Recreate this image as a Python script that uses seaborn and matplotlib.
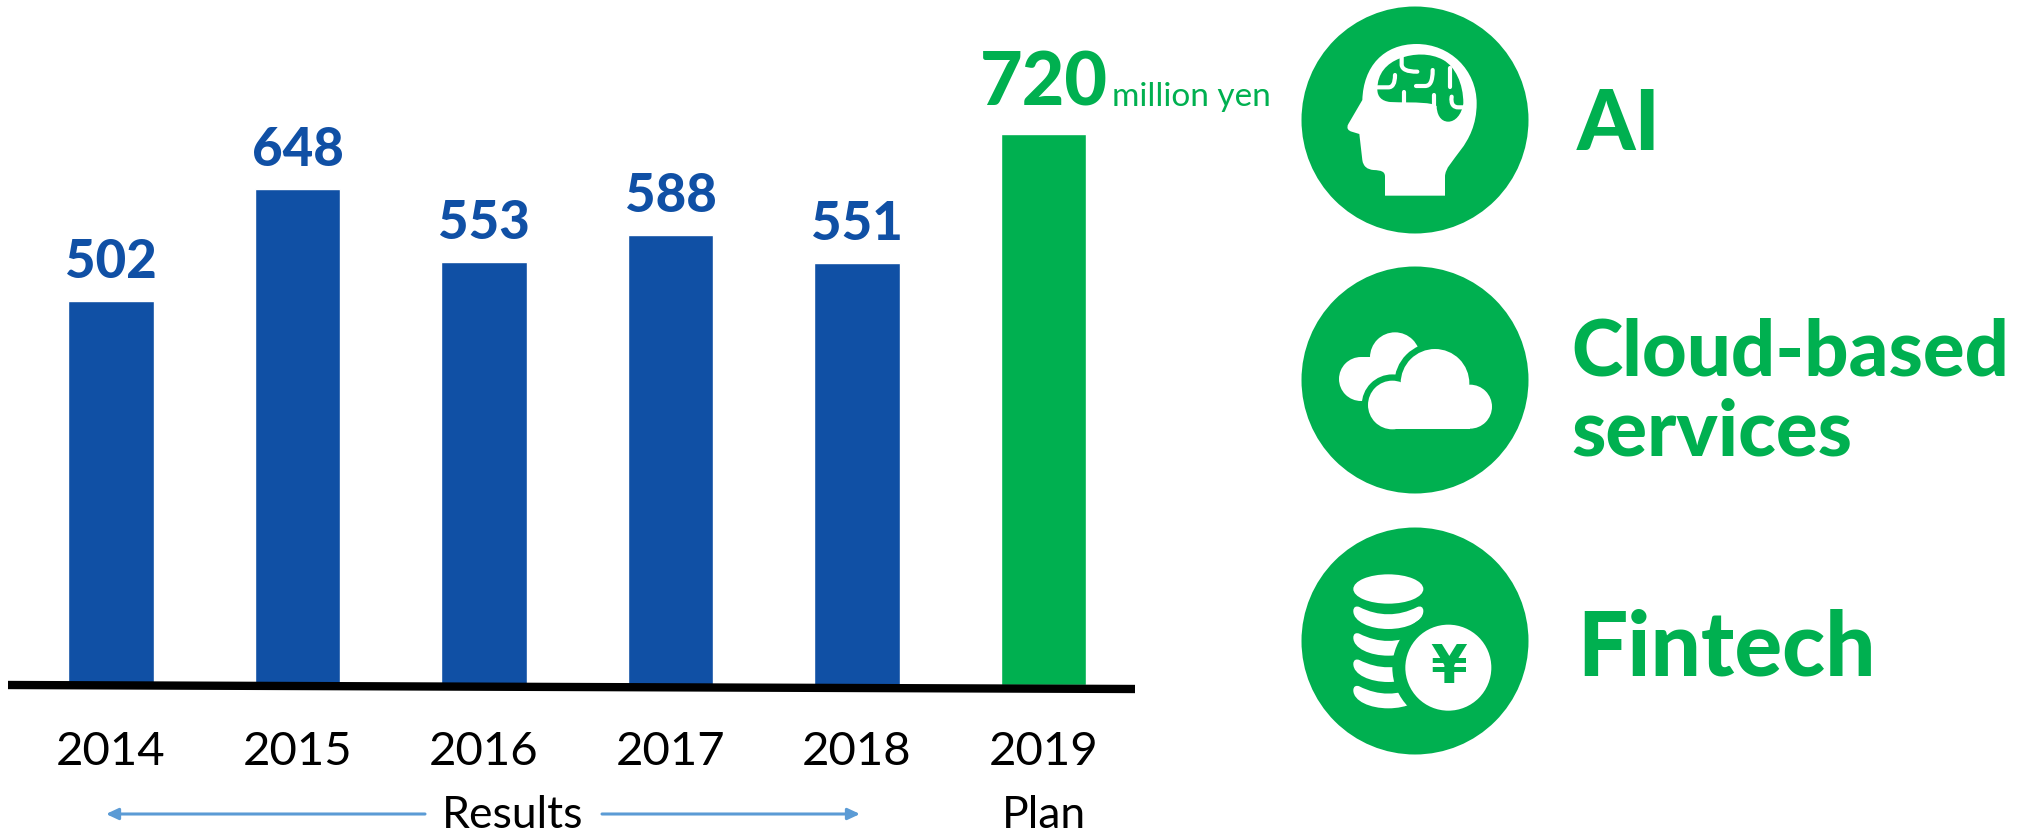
import matplotlib
matplotlib.use('Agg')
import matplotlib.pyplot as plt
from matplotlib.patches import Circle, Ellipse, PathPatch, Rectangle
from matplotlib.path import Path
import pandas as pd
import seaborn as sns

years = ['2014', '2015', '2016', '2017', '2018', '2019']
sales = [502, 648, 553, 588, 551, 720]
status = ['Results', 'Results', 'Results', 'Results', 'Results', 'Plan']
unit = 'million yen'
themes = ['AI', 'Cloud-based\nservices', 'Fintech']

BLUE = '#1050A5'
GREEN = '#00B050'
ARROW = '#5B9BD5'

sns.set_theme(style='white')
plt.rcParams['font.family'] = ['Lato', 'DejaVu Sans']

W, H = 2020, 835
fig = plt.figure(figsize=(W / 100, H / 100), dpi=100)

# bar panel, placed in pixels
ax = fig.add_axes([17.75 / W, (H - 685) / H, 1119 / W, 685 / H])
df = pd.DataFrame({'year': years, 'sales': sales, 'status': status})
sns.barplot(data=df, x='year', y='sales', hue='status', dodge=False,
            palette={'Results': BLUE, 'Plan': GREEN}, width=0.46,
            saturation=1, legend=False, ax=ax)
ax.set_xlim(-0.5, 5.5)
ax.set_ylim(0, 685 / 0.7655)
ax.set_xlabel('')
ax.set_ylabel('')
ax.set_yticks([])
ax.tick_params(axis='x', length=0, pad=33, labelsize=34, labelcolor='black')
sns.despine(ax=ax, left=True, bottom=True)

for i, v in enumerate(sales):
    if years[i] == '2019':
        ax.text(i, v + 20, str(v), ha='center', va='bottom', color=GREEN,
                fontsize=53, fontweight='black')
    else:
        ax.text(i, v + 18, str(v), ha='center', va='bottom', color=BLUE,
                fontsize=38, fontweight='black')

# overlay in pixel coords for baseline, arrows, icons
ov = fig.add_axes([0, 0, 1, 1], facecolor='none')
ov.set_xlim(0, W)
ov.set_ylim(H, 0)
ov.axis('off')

ov.plot([8, 1135], [685, 689], color='black', lw=6, solid_capstyle='butt')
ov.text(1112, 97, unit, color=GREEN, fontsize=24, ha='left', va='center')
ov.text(513, 816, 'Results', color='black', fontsize=32, ha='center', va='center')
ov.text(1044, 816, 'Plan', color='black', fontsize=32, ha='center', va='center')
for x0, x1 in [(425, 106), (602, 860)]:
    ov.annotate('', xy=(x1, 814), xytext=(x0, 814),
                arrowprops=dict(arrowstyle='-|>,head_width=0.28,head_length=0.6',
                                color=ARROW, lw=2.2, shrinkA=0, shrinkB=0))

# icon helpers, coordinates given in 3x crop pixels
def make_path(org, segs):
    verts, codes = [], []
    for s in segs:
        if s[0] == 'M':
            verts.append(s[1]); codes.append(Path.MOVETO)
        elif s[0] == 'L':
            verts.append(s[1]); codes.append(Path.LINETO)
        elif s[0] == 'C':
            verts += [s[1], s[2], s[3]]; codes += [Path.CURVE4] * 3
    verts = [(org[0] + x / 3, org[1] + y / 3) for x, y in verts]
    return Path(verts, codes)

def shape(org, segs, fc='white', ec='none', lw=0, z=3):
    ov.add_patch(PathPatch(make_path(org, segs), fc=fc, ec=ec, lw=lw, zorder=z))

def groove(org, segs):
    ov.add_patch(PathPatch(make_path(org, segs), fc='none', ec='white',
                           lw=3, capstyle='round', zorder=5))

for cy in [120, 380, 641]:
    ov.add_patch(Circle((1415, cy), 113.5, fc=GREEN, ec='none', zorder=2))

# head with brain
org = (1280, 0)
shape(org, [('M', (315, 587)), ('L', (495, 587)), ('L', (495, 530)),
            ('C', (495, 480), (590, 440), (590, 310)),
            ('C', (590, 210), (510, 132), (410, 132)),
            ('C', (310, 132), (250, 200), (247, 300)),
            ('L', (205, 372)), ('C', (198, 385), (205, 392), (215, 395)),
            ('L', (238, 402)), ('L', (247, 480)),
            ('C', (250, 500), (262, 508), (280, 510)),
            ('C', (305, 511), (315, 515), (315, 530)), ('L', (315, 587))])
shape(org, [('M', (292, 268)), ('C', (292, 220), (320, 190), (360, 175)),
            ('C', (400, 160), (450, 158), (490, 180)),
            ('C', (525, 200), (550, 250), (550, 310)),
            ('C', (545, 345), (525, 365), (505, 365)),
            ('C', (480, 365), (470, 340), (470, 318)),
            ('L', (455, 312)), ('C', (420, 305), (360, 308), (330, 306)),
            ('C', (305, 303), (292, 290), (292, 268))], fc=GREEN, z=4)
groove(org, [('M', (365, 170)), ('L', (365, 195)),
             ('C', (367, 208), (380, 215), (412, 215))])
groove(org, [('M', (292, 262)), ('L', (325, 262)),
             ('C', (338, 262), (345, 250), (345, 225))])
groove(org, [('M', (408, 258)), ('L', (435, 258)),
             ('C', (450, 258), (458, 245), (458, 210))])
groove(org, [('M', (510, 205)), ('L', (510, 260))])
groove(org, [('M', (372, 275)), ('L', (372, 310))])
groove(org, [('M', (463, 285)), ('L', (463, 318))])
groove(org, [('M', (515, 290)), ('C', (512, 312), (520, 322), (535, 322)),
             ('L', (552, 322))])

# clouds
org = (1280, 260)
def pt(x, y):
    return org[0] + x / 3, org[1] + y / 3

for c, r in [((345, 292), 75), ((243, 357), 66)]:
    ov.add_patch(Circle(pt(*c), r / 3, fc='white', ec='none', zorder=3))
ov.add_patch(Rectangle(pt(243, 292), 110 / 3, 100 / 3, fc='white', ec='none', zorder=3))
front = [((337, 435), 73), ((465, 370), 103), ((570, 440), 66)]
for c, r in front:
    ov.add_patch(Circle(pt(*c), r / 3, fc=GREEN, ec=GREEN, lw=9, zorder=4))
ov.add_patch(Rectangle(pt(337, 400), 233 / 3, 108 / 3, fc=GREEN, ec=GREEN, lw=9, zorder=4))
for c, r in front:
    ov.add_patch(Circle(pt(*c), r / 3, fc='white', ec='none', zorder=5))
ov.add_patch(Rectangle(pt(337, 400), 233 / 3, 108 / 3, fc='white', ec='none', zorder=5))

# coins with yen
org = (1280, 515)
def pt(x, y):
    return org[0] + x / 3, org[1] + y / 3

ov.add_patch(Ellipse(pt(325, 222), 210 / 3, 88 / 3, fc='white', ec='none', zorder=3))
for dy in [0, 80, 159, 238]:
    shape(org, [('M', (220, 288 + dy)), ('C', (220, 276 + dy), (228, 272 + dy), (238, 276 + dy)),
                ('C', (295, 305 + dy), (355, 305 + dy), (412, 276 + dy)),
                ('C', (422, 272 + dy), (430, 276 + dy), (430, 288 + dy)),
                ('C', (430, 320 + dy), (380, 342 + dy), (325, 342 + dy)),
                ('C', (270, 342 + dy), (220, 320 + dy), (220, 288 + dy))])
ov.add_patch(Circle(pt(505, 458), 168 / 3, fc=GREEN, ec='none', zorder=4))
ov.add_patch(Circle(pt(505, 458), 129 / 3, fc='white', ec='none', zorder=5))
ov.text(*pt(505, 458), '¥', color=GREEN, fontsize=38, fontweight='bold',
        family=['DejaVu Sans'], ha='center', va='center', zorder=6)

# theme labels
ov.text(1577, 125, themes[0], color=GREEN, fontsize=60, fontweight='black', ha='left', va='center')
ov.text(1571, 393, themes[1], color=GREEN, fontsize=56, fontweight='black', ha='left',
        va='center', linespacing=1.15)
ov.text(1577, 650, themes[2], color=GREEN, fontsize=64, fontweight='black', ha='left', va='center')

fig.savefig('out.png', dpi=100)
